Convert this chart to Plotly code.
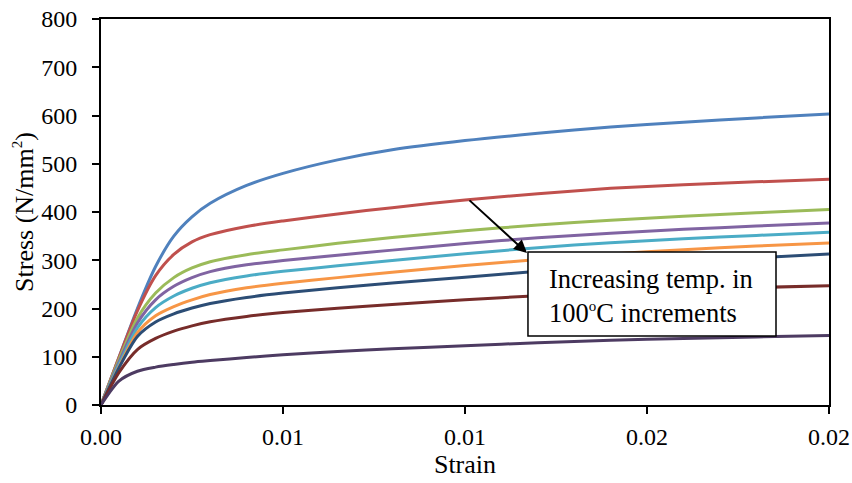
import plotly.graph_objects as go

strain = [0, 0.0005, 0.001, 0.0015, 0.002, 0.0025, 0.003, 0.004, 0.005,
          0.0065, 0.008, 0.01, 0.012, 0.014, 0.016, 0.018, 0.02]

s1 = [0, 100, 200, 287, 350, 390, 418, 455, 480, 508, 529, 548, 563, 576, 586, 595, 603]
s2 = [0, 100, 195, 268, 312, 338, 353, 370, 381.5, 396, 409, 425, 438, 449, 456.5, 462.5, 468]
s3 = [0, 95, 180, 232, 264, 284, 297, 311.5, 321.5, 335, 347, 361, 373, 383, 391, 398.5, 405]
s4 = [0, 90, 170, 218, 246, 264, 276.5, 290.5, 299.5, 310.5, 321, 334.5, 346.5, 356, 364, 371, 377]
s5 = [0, 85, 160, 202, 226, 242, 253.5, 267.5, 277, 288.5, 299.5, 313.5, 326, 336.5, 344.5, 351.5, 358]
s6 = [0, 80, 150, 185, 204, 218, 229, 243, 252.5, 264, 275, 289, 301.5, 313, 322, 329.5, 336]
s7 = [0, 78, 142, 172, 189, 201, 210.5, 223, 232, 243, 253, 265, 277, 288, 297, 305, 313]
s8 = [0, 68, 115, 138, 153, 164, 172.5, 183.5, 191.5, 200.5, 208.5, 218, 226.5, 233.5, 239, 243.5, 247]
s9 = [0, 50, 70, 78.5, 84, 88.5, 92, 98.5, 104, 111, 116.5, 123, 129, 134, 138, 141, 144]

series = [s1, s2, s3, s4, s5, s6, s7, s8, s9]
colors = ["#4F81BD", "#C0504D", "#9BBB59", "#8064A2", "#4BACC6",
          "#F79646", "#2C4D75", "#772C2A", "#4D3B62"]

xtick_vals = [0, 0.005, 0.01, 0.015, 0.02]
xtick_text = ["0.00", "0.01", "0.01", "0.02", "0.02"]
ytick_vals = [0, 100, 200, 300, 400, 500, 600, 700, 800]

FONT = "Liberation Serif, Times New Roman, serif"

fig = go.Figure()
for ys, c in zip(series, colors):
    fig.add_trace(go.Scatter(x=strain, y=ys, mode="lines",
                             line=dict(color=c, width=3, shape="spline", smoothing=0.8),
                             showlegend=False, hoverinfo="skip"))

fig.update_layout(
    width=852, height=483,
    margin=dict(l=101, r=23, t=19, b=78),
    paper_bgcolor="white", plot_bgcolor="white",
    font=dict(family=FONT, color="black", size=24),
    xaxis=dict(range=[0, 0.02], tickvals=xtick_vals, ticktext=xtick_text,
               automargin=False,
               showgrid=False, zeroline=False, showline=True, linecolor="black",
               linewidth=2, mirror=True, ticks="outside", ticklen=7, tickwidth=2,
               tickcolor="black", tickfont=dict(size=24), ticklabelstandoff=2,
               title=dict(text="Strain", font=dict(size=26), standoff=3)),
    yaxis=dict(range=[0, 800], tickvals=ytick_vals, automargin=False,
               showgrid=False, zeroline=False, showline=True, linecolor="black",
               linewidth=2, mirror=True, ticks="outside", ticklen=7, tickwidth=2,
               tickcolor="black", tickfont=dict(size=24), ticklabelstandoff=10,
               title=dict(text="Stress (N/mm<sup><span style='font-size:15px'>2</span></sup>)",
                          font=dict(size=26), standoff=0)),
)

# annotation box
fig.add_shape(type="rect", xref="paper", yref="paper",
              x0=0.5865, x1=0.9272, y0=0.1788, y1=0.3964,
              line=dict(color="black", width=1.5), fillcolor="white", layer="above")

fig.add_annotation(xref="paper", yref="paper", x=0.612, y=0.2824,
                   xanchor="left", yanchor="middle", align="left",
                   text="Increasing temp. in<br>100<sup><span style='font-size:15px'>o</span></sup>C increments",
                   showarrow=False, font=dict(size=26.5, family=FONT, color="black"))

fig.add_annotation(xref="paper", yref="paper", x=0.5852, y=0.3938,
                   text="", showarrow=True, ax=-59, ay=-54,
                   arrowhead=2, arrowsize=1.3, arrowwidth=2, arrowcolor="black",
                   standoff=0)

fig.write_html("out.html")
